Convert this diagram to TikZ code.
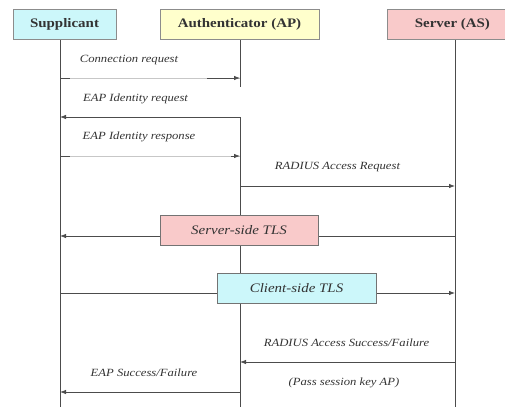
\documentclass[tikz,border=0pt]{standalone}
\usepackage{fontspec}
\setmainfont{Liberation Serif}
\newfontfamily\wideserif[FakeStretch=1.15]{Liberation Serif}
\usetikzlibrary{arrows.meta}
\definecolor{boxline}{HTML}{8C8C8C}
\definecolor{cyanfill}{HTML}{CCF7FA}
\definecolor{yellowfill}{HTML}{FFFFCC}
\definecolor{pinkfill}{HTML}{F9CACA}
\definecolor{msgtext}{HTML}{333333}
\tikzset{
  actor/.style={draw=boxline, line width=0.8pt, minimum height=30pt, inner sep=0pt,
                font=\wideserif\fontsize{13}{15}\selectfont\bfseries, text=black!80},
  tlsbox/.style={draw=black!55, line width=0.8pt, minimum height=30pt, inner sep=0pt,
                 font=\wideserif\fontsize{13}{15}\selectfont\itshape, text=black!80},
  msg/.style={font=\wideserif\fontsize{11}{13}\selectfont\itshape, text=msgtext, inner sep=0pt},
  life/.style={draw=black!70, line width=0.7pt},
  arrowline/.style={draw=black!70, line width=0.8pt, -{Latex[length=6pt,width=4.5pt]}},
  faintline/.style={draw=black!22, line width=0.8pt},
  stub/.style={draw=black!70, line width=0.8pt},
}
\begin{document}
\begin{tikzpicture}[x=1pt, y=-1pt]
\useasboundingbox (0,0) rectangle (505,407);

% lifelines
\coordinate (sTop) at (60,39);   \coordinate (sBot) at (60,407);
\coordinate (aTop) at (240,39);  \coordinate (aGap1) at (240,87);
\coordinate (aGap2) at (240,117); \coordinate (aBot) at (240,407);
\coordinate (vTop) at (455,39);  \coordinate (vBot) at (455,407);
\draw[life] (sTop) -- (sBot);
\draw[life] (aTop) -- (aGap1);
\draw[life] (aGap2) -- (aBot);
\draw[life] (vTop) -- (vBot);

% participants
\node[actor, fill=cyanfill, minimum width=103pt] (sup) at (64.5,24) {Supplicant};
\node[actor, fill=yellowfill, minimum width=159pt] (auth) at (239.5,24) {Authenticator (AP)};
\node[actor, fill=pinkfill, minimum width=122pt, anchor=west] (srv) at (387,24) {\hspace*{8pt}Server (AS)};

% message end points
\coordinate (s1) at (60,78);  \coordinate (a1) at (240,78);
\coordinate (s1b) at (70,78); \coordinate (a1b) at (207,78);
\coordinate (s2) at (60,117); \coordinate (a2) at (240,117);
\coordinate (s3) at (60,156); \coordinate (a3) at (240,156);
\coordinate (s3b) at (70,156); \coordinate (a3b) at (231,156);
\coordinate (a4) at (240,186); \coordinate (v4) at (455,186);
\coordinate (s5) at (60,236); \coordinate (v5) at (455,236);
\coordinate (s6) at (60,293); \coordinate (v6) at (455,293);
\coordinate (a7) at (240,362); \coordinate (v7) at (455,362);
\coordinate (s8) at (60,392); \coordinate (a8) at (240,392);

% messages
\draw[faintline] (s1) -- (a1);
\draw[stub] (s1) -- (s1b);
\draw[arrowline] (a1b) -- (a1);
\node[msg] (m1) at (129,60) {Connection request};

\draw[arrowline] (a2) -- (s2);
\node[msg] (m2) at (135.5,99) {EAP Identity request};

\draw[faintline] (s3) -- (a3);
\draw[stub] (s3) -- (s3b);
\draw[arrowline] (a3b) -- (a3);
\node[msg] (m3) at (139,137) {EAP Identity response};

\draw[arrowline] (a4) -- (v4);
\node[msg] (m4) at (337.5,167) {RADIUS Access Request};

\draw[arrowline] (v5) -- (s5);
\node[tlsbox, fill=pinkfill, minimum width=158pt] (tls1) at (239,230) {Server-side TLS};

\draw[arrowline] (s6) -- (v6);
\node[tlsbox, fill=cyanfill, minimum width=159pt] (tls2) at (296.5,288.5) {Client-side TLS};

\draw[arrowline] (v7) -- (a7);
\node[msg] (m7) at (346.5,343) {RADIUS Access Success/Failure};
\node[msg] (m7b) at (344,383) {(Pass session key AP)};

\draw[arrowline] (a8) -- (s8);
\node[msg] (m8) at (144,373) {EAP Success/Failure};
\end{tikzpicture}
\end{document}
